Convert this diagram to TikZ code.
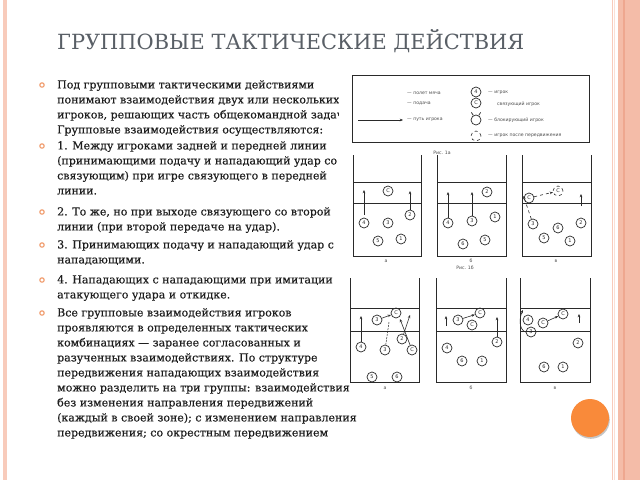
\documentclass[tikz,border=0pt]{standalone}
\usepackage{fontspec}
\setmainfont{DejaVu Serif}
\newfontfamily\bodyfont{DejaVu Serif}[FakeBold=0.35]
\newfontfamily\lgfont{DejaVu Sans}
\usetikzlibrary{arrows.meta}
\definecolor{titlegray}{HTML}{595F66}
\definecolor{txt}{HTML}{1E1E1E}
\definecolor{bulletor}{HTML}{F09A6A}
\definecolor{pinkA}{HTML}{F8CBBB}
\definecolor{pinkB}{HTML}{F4BCA8}
\definecolor{pinkC}{HTML}{EEA78F}
\definecolor{pinkD}{HTML}{FBE0D6}
\definecolor{orangedot}{HTML}{F98A3A}
\definecolor{scan}{HTML}{2A2A2A}
\tikzset{
  pl/.style={circle,draw=scan,line width=0.7pt,minimum size=10pt,inner sep=0pt,font=\lgfont\fontsize{5}{5}\selectfont,text=scan},
  plm/.style={pl,dashed,line width=0.6pt},
  arr/.style={-{Stealth[length=3.2pt,width=2.6pt]},line width=0.6pt,draw=scan},
  darr/.style={arr,dashed},
  court/.style={draw=scan,line width=0.8pt},
  cline/.style={draw=scan,line width=0.6pt},
  lg/.style={font=\lgfont\fontsize{4.6}{5}\selectfont,text=black!70,anchor=west,inner sep=0pt},
  capt/.style={font=\lgfont\fontsize{4.6}{5}\selectfont,text=black!70,inner sep=0pt},
  para/.style={anchor=north west,align=left,inner sep=0pt,text=txt,font=\bodyfont\fontsize{11}{15}\selectfont},
  bul/.style={circle,draw=bulletor,line width=1.1pt,minimum size=4.4pt,inner sep=0pt}
}
\begin{document}
\begin{tikzpicture}[x=1pt,y=-1pt]
\useasboundingbox (0,0) rectangle (640,480);
\fill[white] (0,0) rectangle (640,480);
% borders
\fill[pinkA] (3,0) rectangle (7,480);
\fill[pinkA] (611.7,0) rectangle (613.3,480);
\fill[pinkD] (614,0) rectangle (615.2,480);
\fill[pinkB] (618.3,0) rectangle (640,480);
\fill[pinkC] (623,0) rectangle (625,480);
% title
\node[anchor=west,inner sep=0pt,text=titlegray,font=\fontsize{20.9}{21}\selectfont] (title) at (57,41) {ГРУППОВЫЕ ТАКТИЧЕСКИЕ ДЕЙСТВИЯ};
% text
\node[para] (p1) at (57,80) {Под групповыми тактическими действиями\\понимают взаимодействия двух или нескольких\\игроков, решающих часть общекомандной задачи.\\Групповые взаимодействия осуществляются:};
\node[para] (p2) at (57,141) {1. Между игроками задней и передней линии\\(принимающими подачу и нападающий удар со\\связующим) при игре связующего в передней\\линии.};
\node[para] (p3) at (57,207) {2. То же, но при выходе связующего со второй\\линии (при второй передаче на удар).};
\node[para] (p4) at (57,240) {3. Принимающих подачу и нападающий удар с\\нападающими.};
\node[para] (p5) at (57,275) {4. Нападающих с нападающими при имитации\\атакующего удара и откидке.};
\node[para] (p6) at (57,308) {Все групповые взаимодействия игроков\\проявляются в определенных тактических\\комбинациях — заранее согласованных и\\разученных взаимодействиях. По структуре\\передвижения нападающих взаимодействия\\можно разделить на три группы: взаимодействия\\без изменения направления передвижений\\(каждый в своей зоне); с изменением направления\\передвижения; со окрестным передвижением};
\node[bul] (b1) at (42,85) {};
\node[bul] (b2) at (42,146) {};
\node[bul] (b3) at (42,212) {};
\node[bul] (b4) at (42,245) {};
\node[bul] (b5) at (42,280) {};
\node[bul] (b6) at (42,313) {};
% image area (covers overflowing text)
\fill[white] (339,70) rectangle (603,145);
\fill[white] (350,145) rectangle (603,398);
% legend
\draw[line width=0.6pt,draw=scan] (352,75) rectangle (589,142);
\node[lg] (l1) at (407,93) {— полет мяча};
\node[lg] (l2) at (407,104) {— подача};
\coordinate (la0) at (358,120);
\coordinate (la1) at (403,120);
\draw[arr] (la0) -- (la1);
\node[lg] (l3) at (407,120) {— путь игрока};
\node[pl] (lp1) at (476,92) {4};
\node[pl] (lp2) at (476,103) {С};
\node[pl] (lp3) at (476,120) {};
\draw[line width=0.7pt,draw=scan] (lp3.120) -- ++(-2,-3);
\draw[line width=0.7pt,draw=scan] (lp3.60) -- ++(2,-3);
\node[plm] (lp4) at (476,136) {};
\node[lg] (l4) at (488,93) {— игрок};
\node[lg] (l5) at (497,104) {связующий игрок};
\node[lg] (l6) at (488,120) {— блокирующий игрок};
\node[lg] (l7) at (488,136) {— игрок после передвижения};
\node[capt] (r1a) at (442,153) {Рис. 1а};
% ---------- top row courts ----------
\draw[court] (353,155) -- (353,256) -- (421,256) -- (421,155);
\draw[cline] (353,182) -- (421,182);
\draw[court] (353,203) -- (421,203);
\draw[court] (437,155) -- (437,256) -- (506,256) -- (506,155);
\draw[cline] (437,182) -- (506,182);
\draw[court] (437,203) -- (506,203);
\draw[court] (522,155) -- (522,256) -- (591,256) -- (591,155);
\draw[court] (522,182) -- (591,182);
\draw[cline] (522,203) -- (591,203);
\node[capt] (ca) at (386,261) {а};
\node[capt] (cb) at (471,261) {б};
\node[capt] (cc) at (556,261) {в};
\node[capt] (r1b) at (465,268) {Рис. 1б};
% court a
\node[pl] (ta-c) at (388,191) {С};
\node[pl] (ta-4) at (364,223) {4};
\node[pl] (ta-3) at (388,223) {3};
\node[pl] (ta-2) at (410,215) {2};
\node[pl] (ta-5) at (378,241) {5};
\node[pl] (ta-1) at (401,239) {1};
\coordinate (ta-e4) at (364,190);
\coordinate (ta-e2) at (410,191);
\draw[arr] (ta-4.north) ++(0,-3) -- (ta-e4);
\draw[arr] (ta-2) -- (ta-e2);
% court b
\node[pl] (tb-2) at (487,192) {2};
\node[pl] (tb-4) at (448,223) {4};
\node[pl] (tb-3) at (472,221) {3};
\node[pl] (tb-1) at (495,217) {1};
\node[pl] (tb-6) at (463,244) {6};
\node[pl] (tb-5) at (485,240) {5};
\coordinate (tb-e4) at (448,192);
\coordinate (tb-e3) at (472,192);
\draw[arr] (tb-4) -- (tb-e4);
\draw[arr] (tb-3) -- (tb-e3);
% court c
\node[pl] (tc-c) at (529,198) {С};
\node[plm] (tc-cm) at (558,191) {С};
\node[pl] (tc-3) at (533,224) {3};
\node[pl] (tc-6) at (558,228) {6};
\node[pl] (tc-2) at (581,223) {2};
\node[pl] (tc-5) at (544,238) {5};
\node[pl] (tc-1) at (570,241) {1};
\coordinate (tc-e3) at (523.5,196);
\coordinate (tc-s0) at (581,206);
\coordinate (tc-s1) at (581,194);
\draw[darr] (tc-c) -- (tc-cm);
\draw[darr] (tc-3) -- (tc-e3);
\draw[arr] (tc-s0) -- (tc-s1);
% ---------- bottom row courts ----------
\draw[court] (350,278) -- (350,382) -- (419,382) -- (419,278);
\draw[cline] (350,308) -- (419,308);
\draw[court] (350,331) -- (419,331);
\draw[court] (436,278) -- (436,382) -- (506,382) -- (506,278);
\draw[cline] (436,308) -- (506,308);
\draw[court] (436,331) -- (506,331);
\draw[court] (520,278) -- (520,382) -- (590,382) -- (590,278);
\draw[cline] (520,308) -- (590,308);
\draw[court] (520,331) -- (590,331);
\node[capt] (da) at (385,388) {а};
\node[capt] (db) at (471,388) {б};
\node[capt] (dc) at (555,388) {в};
% court a
\node[pl] (ba-4) at (361,347) {4};
\node[pl] (ba-3a) at (377,320) {3};
\node[pl] (ba-c) at (396,313) {С};
\node[pl] (ba-3) at (385,350) {3};
\node[pl] (ba-2) at (402,339) {2};
\node[pl] (ba-cm) at (412,350) {С};
\node[pl] (ba-5) at (372,377) {5};
\node[pl] (ba-6) at (397,377) {6};
\coordinate (ba-e4) at (361,316);
\coordinate (ba-e3) at (389,322);
\coordinate (ba-ec) at (400,319);
\coordinate (ba-e2) at (410,315);
\draw[arr] (ba-4) -- (ba-e4);
\draw[arr] (ba-3a) -- (ba-c);
\draw[line width=0.5pt,draw=scan,dash pattern=on 2pt off 1pt] (ba-3) -- (ba-e3);
\draw[arr] (ba-cm) -- (ba-ec);
\draw[arr] (ba-2) -- (ba-e2);
% court b
\node[pl] (bb-3) at (458,320) {3};
\node[pl] (bb-c) at (480,313) {С};
\node[pl] (bb-cs) at (472,325) {С};
\node[pl] (bb-2) at (497,342) {2};
\node[pl] (bb-4) at (447,348) {4};
\node[pl] (bb-6) at (462,361) {6};
\node[pl] (bb-1) at (482,361) {1};
\coordinate (bb-s0) at (446,326);
\coordinate (bb-s1) at (446,316);
\coordinate (bb-e2) at (497,317);
\draw[arr] (bb-s0) -- (bb-s1);
\draw[arr] (bb-3) -- (bb-c);
\draw[arr] (bb-2) -- (bb-e2);
% court c
\node[pl] (bc-4) at (528,320) {4};
\node[pl] (bc-3) at (531,332) {3};
\node[pl] (bc-c) at (543,323) {С};
\node[pl] (bc-cm) at (563,314) {С};
\node[pl] (bc-2) at (578,343) {2};
\node[pl] (bc-6) at (544,367) {6};
\node[pl] (bc-1) at (563,367) {1};
\coordinate (bc-e3) at (523,310);
\coordinate (bc-s0) at (579,323);
\coordinate (bc-s1) at (579,314);
\draw[arr] (bc-c) -- (bc-cm);
\draw[arr] (bc-3.west) .. controls (519,330) and (519,318) .. (bc-e3);
\draw[arr] (bc-s0) -- (bc-s1);
% orange dot
\fill[black!45,opacity=0.5] (590.8,419.8) circle (19);
\fill[orangedot] (590,418) circle (19);
\end{tikzpicture}
\end{document}
